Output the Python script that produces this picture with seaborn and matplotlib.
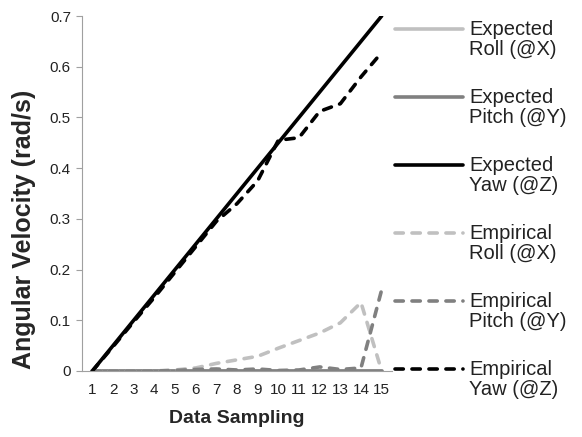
import numpy as np
import pandas as pd
import matplotlib
matplotlib.use("Agg")
import matplotlib.pyplot as plt
from matplotlib.legend_handler import HandlerLine2D
import seaborn as sns

samples = list(range(1, 16))
expected_roll = [0.0] * 15
expected_pitch = [0.0] * 15
expected_yaw = [0.0, 0.05, 0.10, 0.15, 0.20, 0.25, 0.30, 0.35, 0.40, 0.45, 0.50, 0.55, 0.60, 0.65, 0.70]
empirical_roll = [0.0, 0.0, 0.0, 0.0, 0.002, 0.006, 0.015, 0.022, 0.029, 0.045, 0.060, 0.075, 0.095, 0.135, 0.0]
empirical_pitch = [0.0, 0.0, 0.0, 0.0, 0.001, 0.003, 0.004, 0.002, 0.004, 0.001, 0.002, 0.008, 0.003, 0.006, 0.16]
empirical_yaw = [0.0, 0.048, 0.097, 0.145, 0.195, 0.245, 0.295, 0.33, 0.375, 0.455, 0.46, 0.512, 0.527, 0.58, 0.628]

labels = ["Expected\nRoll (@X)", "Expected\nPitch (@Y)", "Expected\nYaw (@Z)",
          "Empirical\nRoll (@X)", "Empirical\nPitch (@Y)", "Empirical\nYaw (@Z)"]
series = [expected_roll, expected_pitch, expected_yaw, empirical_roll, empirical_pitch, empirical_yaw]
colors = ["#c0c0c0", "#808080", "#000000", "#c0c0c0", "#808080", "#000000"]
dashed = [False, False, False, True, True, True]
y_ticks = [0, 0.1, 0.2, 0.3, 0.4, 0.5, 0.6, 0.7]
y_tick_labels = ["0", "0.1", "0.2", "0.3", "0.4", "0.5", "0.6", "0.7"]

sns.set_theme(style="white")
plt.rcParams["font.family"] = ["Liberation Sans", "DejaVu Sans"]

fig = plt.figure(figsize=(5.82, 4.37), dpi=100)
ax = fig.add_axes([82 / 582, 1 - 371 / 437, 310 / 582, 355 / 437])

handles = []
for lab, vals, col, dsh in zip(labels, series, colors, dashed):
    df = pd.DataFrame({"x": samples, "y": vals})
    sns.lineplot(data=df, x="x", y="y", ax=ax, color=col, lw=2.6, label=lab,
                 legend=False)
    ln = ax.lines[-1]
    ln.set_solid_capstyle("round")
    if dsh:
        ln.set_dashes((2.3, 2.4))
        ln.set_dash_capstyle("round")
    handles.append(ln)

ax.set_xlim(0.5, 15.5)
ax.set_ylim(0, 0.7)
ax.set_xticks(samples)
ax.set_xticklabels([str(s) for s in samples], fontsize=11, color="#222222")
ax.set_yticks(y_ticks)
ax.set_yticklabels(y_tick_labels, fontsize=11, color="#222222")
ax.tick_params(axis="y", which="major", direction="out", length=4, width=0.8,
               color="#a0a0a0", left=True, pad=4)
ax.tick_params(axis="x", which="major", length=0, pad=9)
for s in ["top", "right"]:
    ax.spines[s].set_visible(False)
ax.spines["left"].set_color("#a0a0a0")
ax.spines["bottom"].set_color("#a0a0a0")
ax.spines["left"].set_linewidth(0.8)
ax.spines["bottom"].set_linewidth(0.8)
ax.set_xlabel("Data Sampling", fontsize=14, fontweight="bold", labelpad=9)
ax.set_ylabel("Angular Velocity (rad/s)", fontsize=18, fontweight="bold")
ax.yaxis.set_label_coords(-0.148, 0.40)


class UpHandler(HandlerLine2D):
    def create_artists(self, legend, orig_handle, xdescent, ydescent, width, height,
                       fontsize, trans):
        arts = super().create_artists(legend, orig_handle, xdescent, ydescent, width,
                                      height, fontsize, trans)
        for a in arts:
            yd = np.asarray(a.get_ydata(), dtype=float)
            a.set_ydata(yd + 7.5)
        return arts


leg = fig.legend(handles, labels, loc="upper left", bbox_to_anchor=(395 / 582, 1 - 20 / 437),
                 frameon=False, fontsize=14.5, handlelength=3.38, handletextpad=0.3,
                 labelspacing=1.45, borderaxespad=0, borderpad=0,
                 handler_map={h: UpHandler() for h in handles})
for t in leg.get_texts():
    t.set_color("#222222")
    t.set_multialignment("left")
    t.set_linespacing(1.05)

fig.savefig("out.png", dpi=100)
